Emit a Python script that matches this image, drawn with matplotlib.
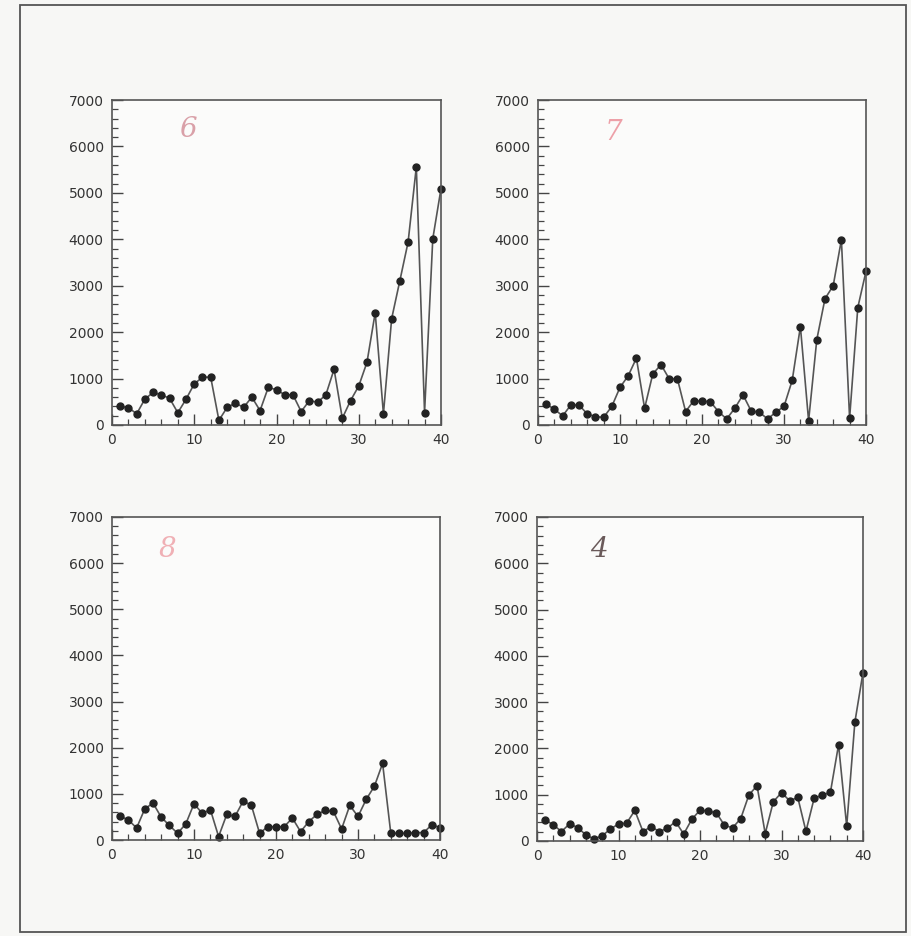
import matplotlib
matplotlib.use("Agg")
import matplotlib.pyplot as plt
from matplotlib.patches import Rectangle
from matplotlib.ticker import MultipleLocator

x = list(range(1, 41))

# four panels
panel6 = [400, 375, 240, 560, 700, 650, 575, 265, 555, 885,
          1030, 1030, 100, 380, 470, 380, 600, 310, 810, 760,
          650, 650, 290, 525, 490, 650, 1200, 145, 525, 840,
          1350, 2420, 240, 2290, 3110, 3940, 5560, 265, 4010, 5090]
panel7 = [450, 340, 195, 430, 430, 240, 180, 165, 400, 810,
          1060, 1440, 360, 1100, 1300, 995, 995, 290, 525, 510,
          505, 290, 130, 360, 650, 300, 275, 130, 275, 400,
          960, 2120, 90, 1840, 2720, 3000, 3990, 145, 2530, 3310]
panel8 = [515, 435, 260, 675, 800, 495, 315, 145, 350, 785,
          580, 655, 75, 555, 510, 845, 750, 145, 290, 285,
          290, 475, 180, 400, 555, 640, 620, 240, 750, 510,
          880, 1165, 1660, 145, 145, 145, 160, 160, 330, 270]
panel4 = [455, 350, 205, 370, 290, 130, 45, 115, 255, 370,
          385, 660, 205, 310, 205, 275, 420, 150, 470, 665,
          645, 610, 340, 285, 485, 995, 1195, 160, 850, 1045,
          870, 940, 210, 920, 995, 1050, 2080, 320, 2565, 3640]

series = [panel6, panel7, panel8, panel4]
marks = ['6', '7', '8', '4']
mark_colors = ['#d9a0a8', '#eda0a8', '#f0b0b5', '#6a5a5a']
mark_pos = [(0.23, 0.91), (0.23, 0.90), (0.17, 0.90), (0.19, 0.90)]

W, H = 911, 936
boxes = [(112, 100, 441, 425), (538, 100, 866, 425),
         (112, 517, 440, 840), (537, 517, 863, 841)]

fig = plt.figure(figsize=(W / 100, H / 100), dpi=100)
fig.patch.set_facecolor('#f7f7f5')

# scan border
fig.patches.append(Rectangle((20 / W, 1 - 932 / H), 886 / W, 927 / H,
                             transform=fig.transFigure, fill=False,
                             edgecolor='#555555', linewidth=1.3))

for i, (l, t, r, b) in enumerate(boxes):
    ax = fig.add_axes([l / W, 1 - b / H, (r - l) / W, (b - t) / H])
    ax.set_facecolor('#fbfbfa')
    ax.plot(x, series[i], color='#555555', linewidth=1.2,
            marker='o', markersize=5, markerfacecolor='#222222',
            markeredgecolor='#222222', clip_on=False)
    ax.set_xlim(0, 40)
    ax.set_ylim(0, 7000)
    ax.xaxis.set_major_locator(MultipleLocator(10))
    ax.xaxis.set_minor_locator(MultipleLocator(2))
    ax.yaxis.set_major_locator(MultipleLocator(1000))
    ax.yaxis.set_minor_locator(MultipleLocator(200))
    ax.tick_params(which='both', direction='in', top=False, right=False,
                   colors='#444444', labelcolor='#333333', labelsize=10)
    ax.tick_params(which='major', length=8, width=1.0, pad=6)
    ax.tick_params(which='minor', length=4, width=0.9)
    for s in ax.spines.values():
        s.set_color('#555555')
        s.set_linewidth(1.2)
    ax.text(mark_pos[i][0], mark_pos[i][1], marks[i], transform=ax.transAxes,
            color=mark_colors[i], fontsize=20, style='italic',
            ha='center', va='center', family='DejaVu Serif')

fig.savefig('out.png', dpi=100, facecolor=fig.get_facecolor())
